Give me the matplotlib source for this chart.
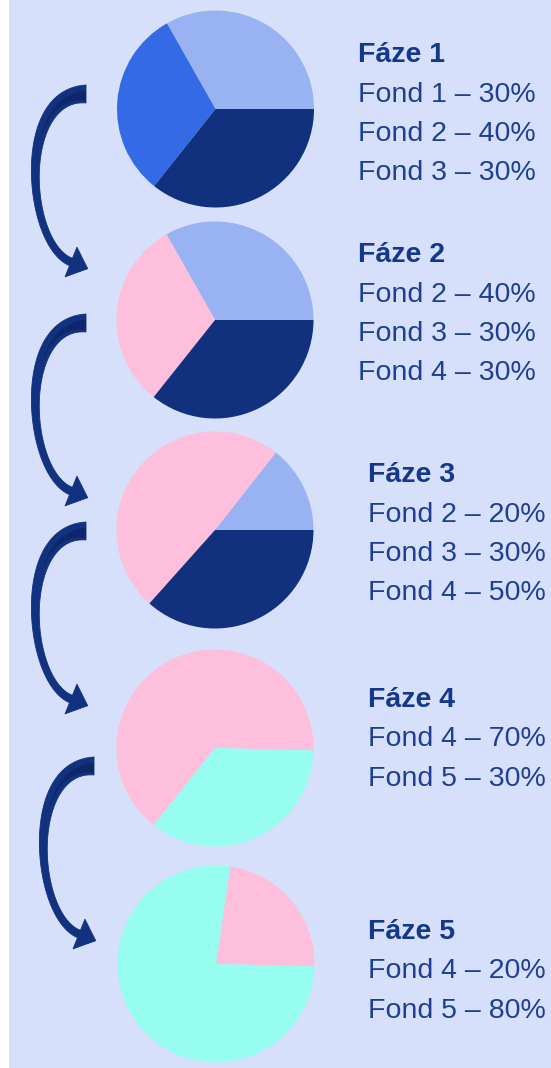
import matplotlib.pyplot as plt
import numpy as np
from matplotlib.patches import Polygon, Rectangle

W, H = 551, 1068

# colours
BG = "#d6e0fa"
LIGHT = "#98b2f2"
MEDIUM = "#356ae6"
NAVY = "#11317f"
PINK = "#fdbfdb"
MINT = "#96fdf0"
TITLE_C = "#14388c"
TEXT_C = "#1e3f94"
ARROW_C = "#12327f"
ARROW_DARK = "#0c276a"
FONT = ["Liberation Sans", "DejaVu Sans"]

# data
phases = ["Fáze 1", "Fáze 2", "Fáze 3", "Fáze 4", "Fáze 5"]
phase_funds = [
    ["Fond 1", "Fond 2", "Fond 3"],
    ["Fond 2", "Fond 3", "Fond 4"],
    ["Fond 2", "Fond 3", "Fond 4"],
    ["Fond 4", "Fond 5"],
    ["Fond 4", "Fond 5"],
]
phase_pcts = [[30, 40, 30], [40, 30, 30], [20, 30, 50], [70, 30], [20, 80]]
# slice sizes as drawn in the pies (percent, counter-clockwise from start)
slice_shares = [
    [33.2, 31.1, 35.7],
    [33.2, 31.1, 35.7],
    [14.4, 49.0, 36.6],
    [64.7, 35.3],
    [23.1, 76.9],
]
slice_colors = [
    [LIGHT, MEDIUM, NAVY],
    [LIGHT, PINK, NAVY],
    [LIGHT, PINK, NAVY],
    [PINK, MINT],
    [PINK, MINT],
]
start_angles = [0, 0, 0, -1.4, -1.4]

# layout, in pixels from the top-left corner
pie_x = [215.5, 215, 215, 215, 216]
pie_y = [109, 320, 530, 748, 964]
pie_r = 98.5
text_x = [358, 358, 368, 368, 368]
title_y = [62, 262, 482, 707, 939]
line_gap = 39.5
arrow_tops = [(86, 94), (86, 323), (86, 531), (94, 766)]


def curved_arrow(ax, x0, y0):
    """Tapering curved arrow going from the flat top end down to a head."""
    p = np.array([[0, 0], [-70, 0], [-60, 150], [-15, 168]], float)
    t = np.linspace(0, 1, 80)[:, None]
    pts = ((1 - t) ** 3 * p[0] + 3 * (1 - t) ** 2 * t * p[1]
           + 3 * (1 - t) * t ** 2 * p[2] + t ** 3 * p[3])
    d = (3 * (1 - t) ** 2 * (p[1] - p[0]) + 6 * (1 - t) * t * (p[2] - p[1])
         + 3 * t ** 2 * (p[3] - p[2]))
    d /= np.linalg.norm(d, axis=1, keepdims=True)
    n = np.column_stack([-d[:, 1], d[:, 0]])
    w = (18 - 30 * t + 20 * t ** 2) / 2
    left = pts + n * w
    right = pts - n * w
    tip = pts[-1] + d[-1] * 18
    hw = 16
    head = [pts[-1] + n[-1] * hw, tip, pts[-1] - n[-1] * hw]
    outline = np.vstack([left, head, right[::-1]]) + [x0, y0]
    ax.add_patch(Polygon(outline, closed=True, fc=ARROW_C, ec=ARROW_C,
                         lw=0.6, joinstyle="round", zorder=3))

    # darker inner band near the top end
    k = t[:, 0] < 0.35
    c = pts[k] - n[k] * w[k] * 0.2
    sw = w[k] * 0.55 * (1 - t[k] / 0.35)
    band = np.vstack([c + n[k] * sw, (c - n[k] * sw)[::-1]]) + [x0, y0]
    ax.add_patch(Polygon(band, closed=True, fc=ARROW_DARK, ec="none", zorder=4))


fig = plt.figure(figsize=(W / 100, H / 100), dpi=100, facecolor="white")
ax = fig.add_axes([0, 0, 1, 1])

ax.add_patch(Rectangle((9, 0), W - 9, H, fc=BG, ec="none", zorder=0))

for i in range(len(phases)):
    # y axis is flipped below, so draw clockwise in data to get counter-clockwise on screen
    ax.pie(slice_shares[i], colors=slice_colors[i], startangle=-start_angles[i],
           counterclock=False, center=(pie_x[i], pie_y[i]), radius=pie_r,
           wedgeprops=dict(linewidth=0))

    ax.text(text_x[i], title_y[i], phases[i], fontsize=20.5, fontweight="bold",
            color=TITLE_C, family=FONT, ha="left", va="baseline")
    for j, (fund, pct) in enumerate(zip(phase_funds[i], phase_pcts[i])):
        ax.text(text_x[i], title_y[i] + line_gap * (j + 1), f"{fund} – {pct}%",
                fontsize=20.5, color=TEXT_C, family=FONT, ha="left", va="baseline")

for x0, y0 in arrow_tops:
    curved_arrow(ax, x0, y0)

ax.set_xlim(0, W)
ax.set_ylim(H, 0)
ax.set_aspect("equal")
ax.axis("off")

fig.savefig("out.png", dpi=100, facecolor="white")
